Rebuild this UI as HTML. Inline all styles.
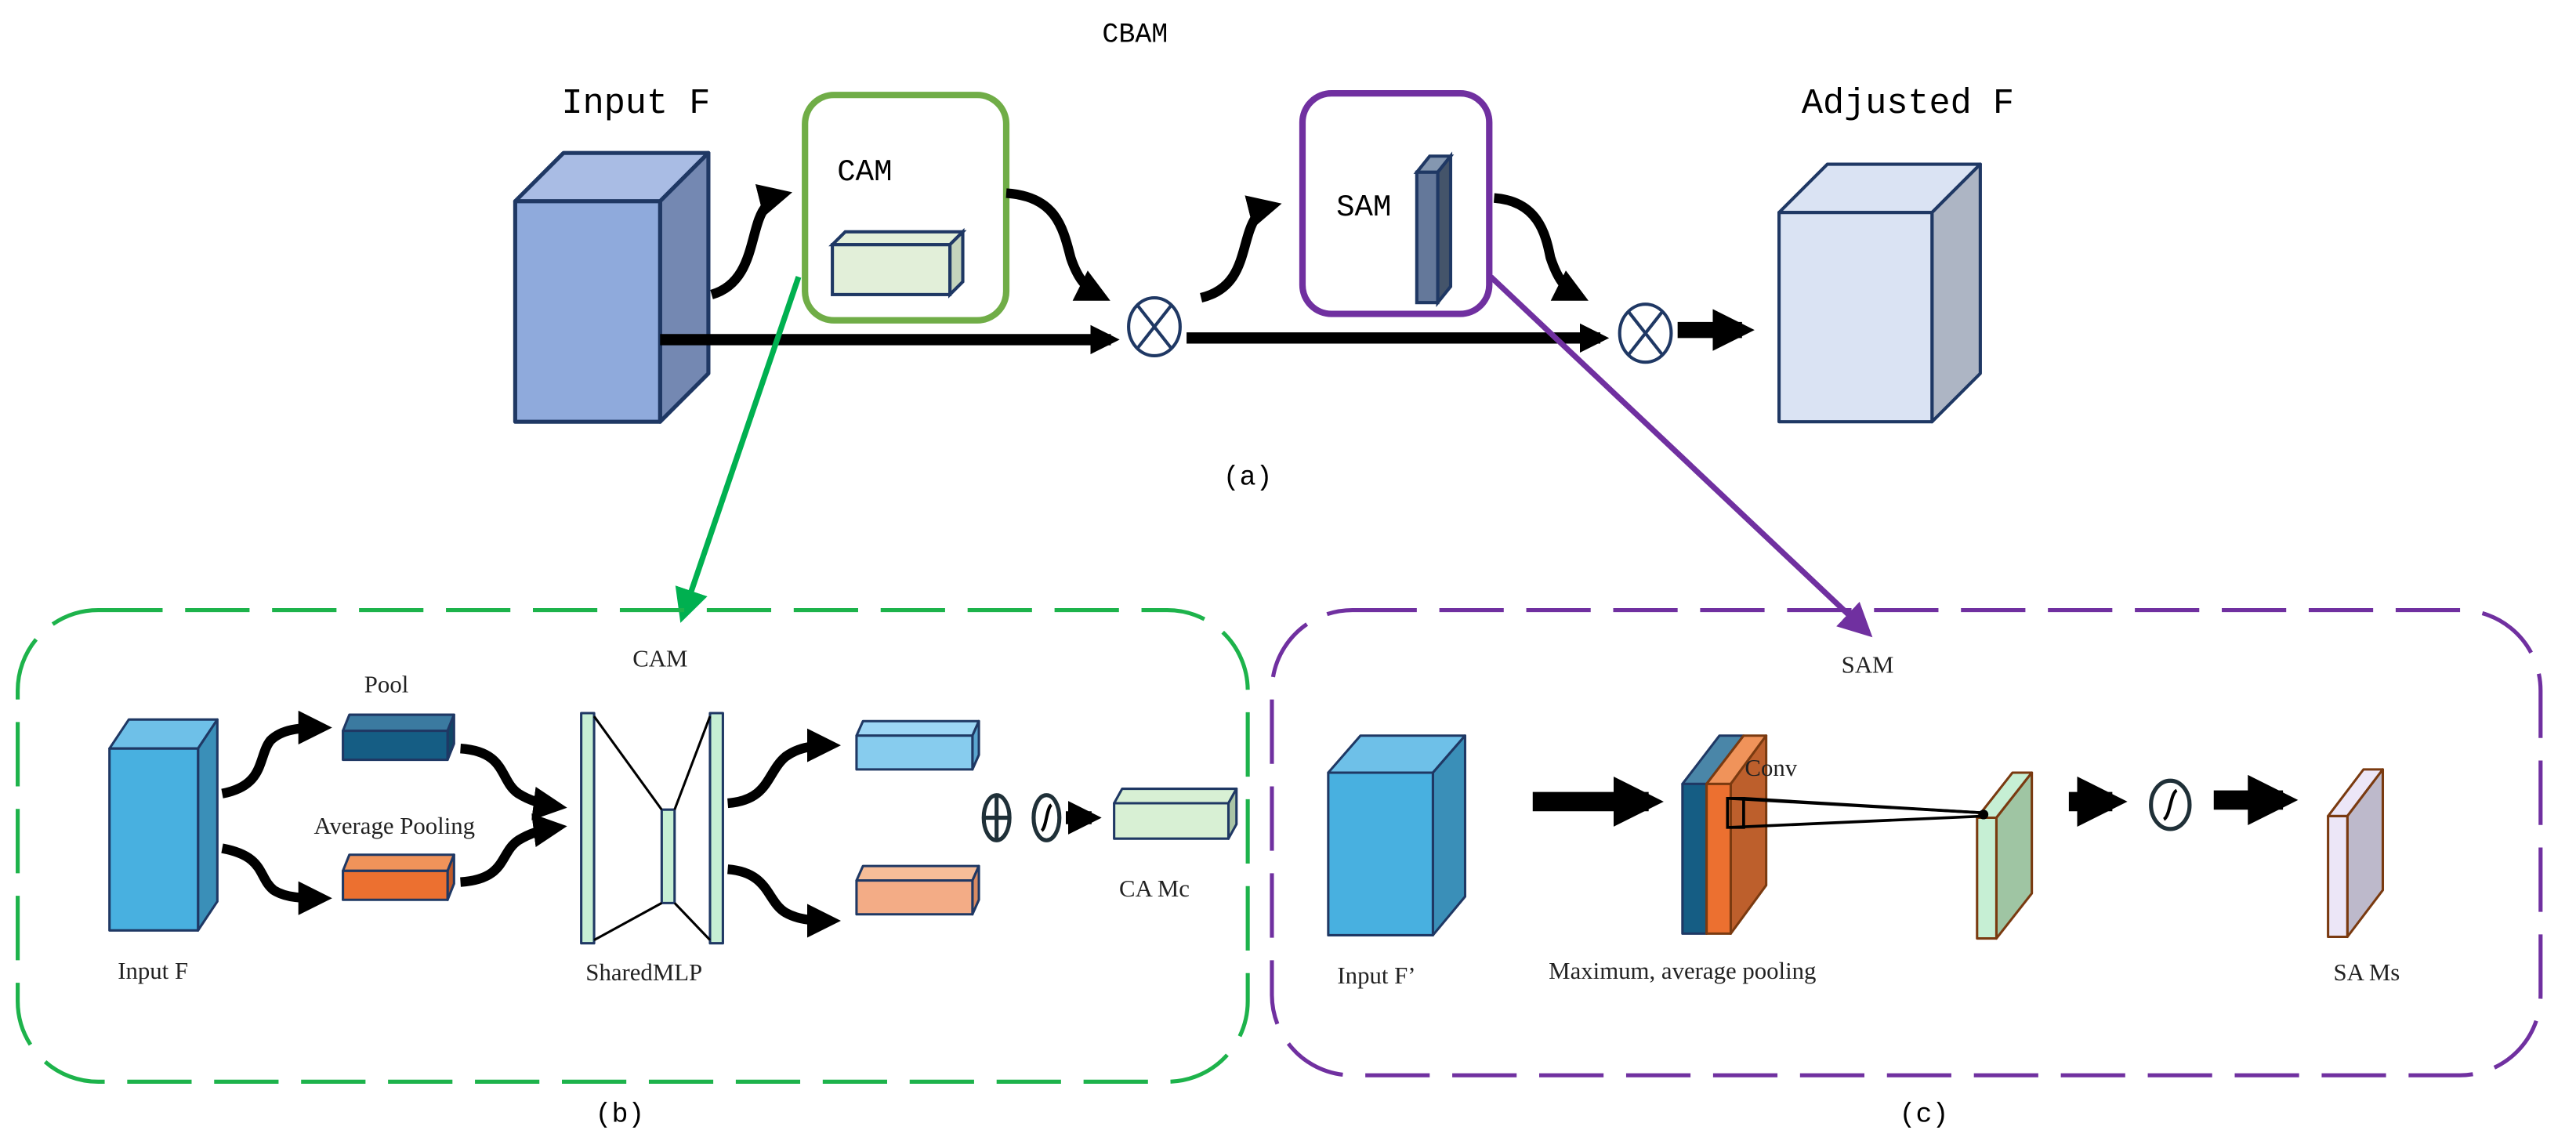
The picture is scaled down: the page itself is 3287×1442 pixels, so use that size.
<!DOCTYPE html>
<html><head><meta charset="utf-8"><style>
html,body{margin:0;padding:0;background:#fff;}
svg{display:block;}
.m{font-family:"Liberation Mono","Noto Sans CJK SC",monospace;fill:#000;}
.t{font-family:"Liberation Serif",serif;fill:#222;}
</style></head><body>
<svg width="3287" height="1442" viewBox="0 0 1600 702" preserveAspectRatio="none" xmlns="http://www.w3.org/2000/svg">
<defs>
<marker id="ahs" viewBox="0 0 10 10" refX="7" refY="5" markerWidth="3.5" markerHeight="3.5" orient="auto" markerUnits="strokeWidth"><path d="M0,0L10,5L0,10z" fill="#000"/></marker>
<marker id="ahb" viewBox="0 0 10 10" refX="7" refY="5" markerWidth="2.6" markerHeight="2.6" orient="auto" markerUnits="strokeWidth"><path d="M0,0L10,5L0,10z" fill="#000"/></marker>
<marker id="ag" viewBox="0 0 10 10" refX="8" refY="5" markerWidth="6" markerHeight="6" orient="auto" markerUnits="strokeWidth"><path d="M0,0L10,5L0,10z" fill="#00b050"/></marker>
<marker id="ap" viewBox="0 0 10 10" refX="8" refY="5" markerWidth="6" markerHeight="6" orient="auto" markerUnits="strokeWidth"><path d="M0,0L10,5L0,10z" fill="#7030a0"/></marker>
</defs>

<!-- top labels -->
<text class="m" x="705" y="26" font-size="17" text-anchor="middle">CBAM</text>
<text class="m" x="395" y="70" font-size="22" text-anchor="middle">Input F</text>
<text class="m" x="1185" y="70" font-size="22" text-anchor="middle">Adjusted F</text>
<text class="m" x="775" y="301" font-size="17" text-anchor="middle">(a)</text>

<!-- Input F cube -->
<g stroke="#1f3864" stroke-width="2.5" stroke-linejoin="round">
<polygon points="320,125 350,95 440,95 410,125" fill="#a9bce4"/>
<polygon points="410,125 440,95 440,232 410,262" fill="#7488b2"/>
<rect x="320" y="125" width="90" height="137" fill="#8faadc"/>
</g>

<!-- Adjusted F cube -->
<g stroke="#1f3864" stroke-width="2" stroke-linejoin="round">
<polygon points="1105,132 1135,102 1230,102 1200,132" fill="#dae3f3"/>
<polygon points="1200,132 1230,102 1230,232 1200,262" fill="#adb5c4"/>
<rect x="1105" y="132" width="95" height="130" fill="#dae3f3"/>
</g>

<!-- CAM box -->
<rect x="500" y="59" width="125" height="140" rx="18" fill="none" stroke="#70ad47" stroke-width="4"/>
<text class="m" x="520" y="112" font-size="19">CAM</text>
<g stroke="#1f3864" stroke-width="2">
<polygon points="517,152 525,144 598,144 590,152" fill="#e2efd9"/>
<polygon points="590,152 598,144 598,175 590,183" fill="#c5d5bd"/>
<rect x="517" y="152" width="73" height="31" fill="#e2efd9"/>
</g>

<!-- SAM box -->
<rect x="809" y="58" width="116" height="137" rx="18" fill="none" stroke="#7030a0" stroke-width="4"/>
<text class="m" x="830" y="134" font-size="19">SAM</text>
<g stroke="#1f3864" stroke-width="2">
<polygon points="880,107 888,97 901,97 893,107" fill="#8497b0"/>
<polygon points="893,107 901,97 901,178 893,188" fill="#44546a"/>
<rect x="880" y="107" width="13" height="81" fill="#64789a"/>
</g>

<!-- main arrows -->
<line x1="410" y1="211" x2="690" y2="211" stroke="#000" stroke-width="7" marker-end="url(#ahb)"/>
<line x1="737" y1="210" x2="994" y2="210" stroke="#000" stroke-width="7" marker-end="url(#ahb)"/>
<line x1="1042" y1="205" x2="1082" y2="205" stroke="#000" stroke-width="10" marker-end="url(#ahb)"/>

<g fill="none" stroke="#000" stroke-width="6">
<path d="M442,183 C470,175 465,140 476,128 C479,124 482,122 486,121" marker-end="url(#ahs)"/>
<path d="M625,120 C655,122 660,140 665,160 C670,175 676,180 684,184" marker-end="url(#ahs)"/>
<path d="M746,185 C775,178 770,150 780,135 C783,131 786,129 790,128" marker-end="url(#ahs)"/>
<path d="M928,123 C955,125 960,145 963,160 C968,175 973,180 981,184" marker-end="url(#ahs)"/>
</g>

<!-- otimes -->
<g stroke="#1f3864" stroke-width="2" fill="#fff">
<ellipse cx="717" cy="203" rx="16" ry="18"/>
<line x1="706" y1="189" x2="728" y2="217"/><line x1="728" y1="189" x2="706" y2="217"/>
<ellipse cx="1022" cy="207" rx="16" ry="18"/>
<line x1="1011" y1="193" x2="1033" y2="221"/><line x1="1033" y1="193" x2="1011" y2="221"/>
</g>

<!-- connector lines -->
<line x1="496" y1="172" x2="424" y2="383" stroke="#00b050" stroke-width="3.5" marker-end="url(#ag)"/>
<line x1="926" y1="172" x2="1160" y2="393" stroke="#7030a0" stroke-width="3.5" marker-end="url(#ap)"/>

<!-- dashed boxes -->
<rect x="11" y="379" width="764" height="293" rx="50" fill="none" stroke="#1db34b" stroke-width="2.5" stroke-dasharray="40,14"/>
<rect x="790" y="379" width="788" height="289" rx="50" fill="none" stroke="#7030a0" stroke-width="2.5" stroke-dasharray="40,14"/>
<text class="m" x="385" y="697" font-size="17" text-anchor="middle">(b)</text>
<text class="m" x="1195" y="697" font-size="17" text-anchor="middle">(c)</text>

<!-- (b) content -->
<text class="t" x="410" y="414" font-size="15" text-anchor="middle">CAM</text>
<text class="t" x="240" y="430" font-size="15" text-anchor="middle">Pool</text>
<text class="t" x="245" y="518" font-size="15" text-anchor="middle">Average Pooling</text>
<text class="t" x="95" y="608" font-size="15" text-anchor="middle">Input F</text>
<text class="t" x="400" y="609" font-size="15" text-anchor="middle">SharedMLP</text>
<text class="t" x="717" y="557" font-size="15" text-anchor="middle">CA  Mc</text>

<g stroke="#1f3864" stroke-width="1.5" stroke-linejoin="round">
<polygon points="68,465 80,447 135,447 123,465" fill="#6ec0e8"/>
<polygon points="123,465 135,447 135,560 123,578" fill="#3a8fb8"/>
<rect x="68" y="465" width="55" height="113" fill="#48b0e0"/>

<polygon points="213,454 217,444 282,444 278,454" fill="#3b7aa0"/>
<polygon points="278,454 282,444 282,462 278,472" fill="#0f4766"/>
<rect x="213" y="454" width="65" height="18" fill="#155d84"/>

<polygon points="213,541 217,531 282,531 278,541" fill="#f0935a"/>
<polygon points="278,541 282,531 282,549 278,559" fill="#c05a28"/>
<rect x="213" y="541" width="65" height="18" fill="#ec7030"/>

<polygon points="532,457 536,448 608,448 604,457" fill="#9dd6f5"/>
<polygon points="604,457 608,448 608,469 604,478" fill="#5aa6cf"/>
<rect x="532" y="457" width="72" height="21" fill="#87ccee"/>

<polygon points="532,547 536,538 608,538 604,547" fill="#f7bd98"/>
<polygon points="604,547 608,538 608,559 604,568" fill="#d98a62"/>
<rect x="532" y="547" width="72" height="21" fill="#f3ac86"/>

<polygon points="692,499 697,490 768,490 763,499" fill="#d8f0d4"/>
<polygon points="763,499 768,490 768,512 763,521" fill="#aac4a6"/>
<rect x="692" y="499" width="71" height="22" fill="#d8f0d4"/>

<rect x="361" y="443" width="8" height="143" fill="#c6efd4"/>
<rect x="441" y="443" width="8" height="143" fill="#c6efd4"/>
<rect x="411" y="503" width="8" height="58" fill="#c6efd4"/>
</g>
<g stroke="#000" stroke-width="1.5">
<line x1="369" y1="445" x2="411" y2="503"/><line x1="369" y1="584" x2="411" y2="561"/>
<line x1="441" y1="445" x2="419" y2="503"/><line x1="441" y1="584" x2="419" y2="561"/>
</g>
<g fill="none" stroke="#000" stroke-width="6">
<path d="M138,493 C165,488 160,470 168,460 C175,453 186,452 200,452" marker-end="url(#ahs)"/>
<path d="M138,527 C165,532 160,545 170,553 C178,558 188,558 200,558" marker-end="url(#ahs)"/>
<path d="M286,465 C315,467 310,485 322,493 C330,498 338,500 346,501" marker-end="url(#ahs)"/>
<path d="M286,548 C315,546 310,530 322,522 C330,517 338,515 346,514" marker-end="url(#ahs)"/>
<path d="M452,499 C478,497 476,480 488,470 C495,465 503,463 516,463" marker-end="url(#ahs)"/>
<path d="M452,540 C478,542 476,560 488,567 C495,571 503,572 516,572" marker-end="url(#ahs)"/>
</g>
<g stroke="#1f3038" stroke-width="2.5" fill="#fff">
<ellipse cx="619" cy="508" rx="8" ry="14"/>
<line x1="619" y1="494" x2="619" y2="522"/><line x1="611" y1="508" x2="627" y2="508"/>
<ellipse cx="650" cy="508" rx="8" ry="14"/>
</g>
<path d="M647,516 C650,514 650,502 653,500" stroke="#000" stroke-width="2" fill="none"/>
<line x1="662" y1="508" x2="678" y2="508" stroke="#000" stroke-width="8" marker-end="url(#ahb)"/>

<!-- (c) content -->
<text class="t" x="1160" y="418" font-size="15" text-anchor="middle">SAM</text>
<text class="t" x="855" y="611" font-size="15" text-anchor="middle">Input F’</text>
<text class="t" x="1045" y="608" font-size="15" text-anchor="middle">Maximum, average pooling</text>
<text class="t" x="1470" y="609" font-size="15" text-anchor="middle">SA  Ms</text>

<g stroke="#1f3864" stroke-width="1.5" stroke-linejoin="round">
<polygon points="825,480 845,457 910,457 890,480" fill="#6ec0e8"/>
<polygon points="890,480 910,457 910,557 890,581" fill="#3a8fb8"/>
<rect x="825" y="480" width="65" height="101" fill="#48b0e0"/>

<polygon points="1045,487 1068,457 1083,457 1060,487" fill="#4a86a8"/>
<rect x="1045" y="487" width="15" height="93" fill="#155d84"/>
</g>
<g stroke="#7a3a10" stroke-width="1.5" stroke-linejoin="round">
<polygon points="1060,487 1083,457 1097,457 1075,487" fill="#f0935a"/>
<polygon points="1075,487 1097,457 1097,550 1075,580" fill="#bd5f2c"/>
<rect x="1060" y="487" width="15" height="93" fill="#ec7030"/>

<polygon points="1228,508 1250,480 1262,480 1240,508" fill="#c6efd4"/>
<polygon points="1240,508 1262,480 1262,555 1240,583" fill="#9fc5a3"/>
<rect x="1228" y="508" width="12" height="75" fill="#c6efd4"/>

<polygon points="1446,507 1468,478 1480,478 1458,507" fill="#ece6f7"/>
<polygon points="1458,507 1480,478 1480,553 1458,582" fill="#bdb9cb"/>
<rect x="1446" y="507" width="12" height="75" fill="#ece6f7"/>
</g>
<text class="t" x="1100" y="482" font-size="15" text-anchor="middle">Conv</text>
<g stroke="#000" stroke-width="1.8" fill="none">
<rect x="1073" y="496" width="10" height="18"/>
<line x1="1075" y1="496" x2="1232" y2="505"/>
<line x1="1075" y1="514" x2="1232" y2="507"/>
<line x1="1083" y1="496" x2="1232" y2="505"/>
</g>
<circle cx="1232" cy="506" r="3" fill="#000"/>
<line x1="952" y1="498" x2="1024" y2="498" stroke="#000" stroke-width="12" marker-end="url(#ahb)"/>
<line x1="1285" y1="498" x2="1312" y2="498" stroke="#000" stroke-width="12" marker-end="url(#ahb)"/>
<line x1="1375" y1="497" x2="1418" y2="497" stroke="#000" stroke-width="12" marker-end="url(#ahb)"/>
<ellipse cx="1348" cy="500" rx="12" ry="15" fill="#fff" stroke="#1f3038" stroke-width="2.5"/>
<path d="M1344,509 C1348,507 1348,493 1352,491" stroke="#000" stroke-width="2" fill="none"/>
</svg>
</body></html>
